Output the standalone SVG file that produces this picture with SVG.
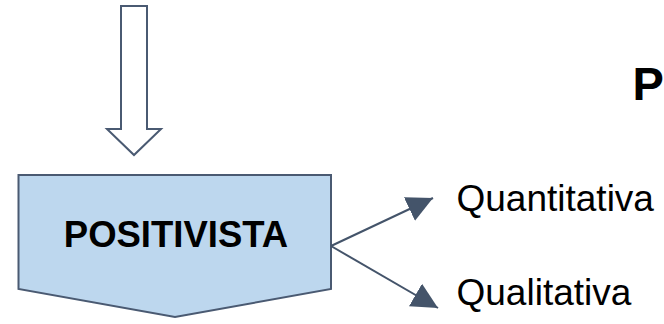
<svg xmlns="http://www.w3.org/2000/svg" width="664" height="324" viewBox="0 0 664 324">
<style>
.shape{stroke:#4A5A72;stroke-width:2;stroke-linejoin:miter}
.conn{stroke:#44546A;stroke-width:2;fill:none}
.bold{font-family:"Liberation Sans",Arial,sans-serif;font-weight:bold;fill:#000}
.reg{font-family:"Liberation Sans",Arial,sans-serif;fill:#000}
</style>
<defs>
<marker id="ah" viewBox="0 0 10 10" refX="10" refY="5" markerWidth="26" markerHeight="26" markerUnits="userSpaceOnUse" orient="auto">
<path d="M0,0 L10,5 L0,10 z" fill="#44546A"/>
</marker>
</defs>
<rect width="664" height="324" fill="#fff"/>
<g id="arrow-in">
<polygon class="shape" fill="#fff" points="121,6 147,6 147,129 161,129 134,155 107,129 121,129"/>
</g>
<g id="positivista">
<polygon class="shape" fill="#BDD7EE" points="18.5,175 331,175 331,289 175,317 18.5,289"/>
<text class="bold" x="176" y="247" font-size="36.5" text-anchor="middle">POSITIVISTA</text>
</g>
<g id="connectors">
<line class="conn" x1="331" y1="246" x2="433" y2="198" marker-end="url(#ah)"/>
<line class="conn" x1="331" y1="246" x2="438" y2="308" marker-end="url(#ah)"/>
</g>
<g id="quantitativa">
<text class="reg" x="456.5" y="211" font-size="37">Quantitativa</text>
</g>
<g id="qualitativa">
<text class="reg" x="456.5" y="305" font-size="37">Qualitativa</text>
</g>
<g id="title">
<text class="bold" x="632.5" y="100" font-size="47">P</text>
</g>
</svg>
